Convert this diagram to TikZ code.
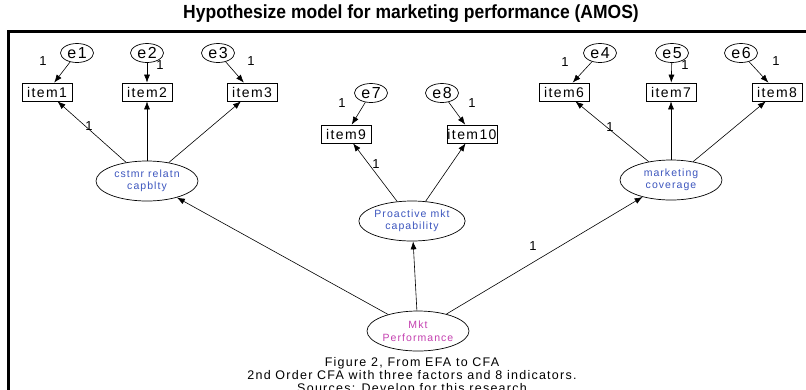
\documentclass[tikz,border=0pt]{standalone}
\usepackage{fontspec}
\setmainfont{Liberation Sans}
\newfontfamily\titlefont[FakeStretch=0.92]{Liberation Sans}
\newfontfamily\amosfont[LetterSpace=10]{Liberation Sans}
\usetikzlibrary{shapes.geometric,arrows.meta}
\definecolor{latblue}{RGB}{60,85,190}
\definecolor{topmag}{RGB}{196,64,176}
\begin{document}
\begin{tikzpicture}[x=1pt,y=-1pt,
  errnode/.style={ellipse, draw, line width=0.7pt, minimum width=33pt, minimum height=19pt, inner sep=0pt, font=\amosfont\fontsize{16}{16}\selectfont},
  obsnode/.style={rectangle, draw, line width=0.7pt, minimum width=50pt, minimum height=18pt, inner sep=0pt, font=\amosfont\fontsize{14}{14}\selectfont},
  latnode/.style={ellipse, draw, line width=0.7pt, minimum width=102pt, minimum height=40pt, inner sep=0pt, align=center, text=latblue, font=\amosfont\fontsize{10.5}{12.5}\selectfont},
  wlabel/.style={inner sep=0pt, font=\amosfont\fontsize{13}{13}\selectfont},
  captext/.style={inner sep=0pt, anchor=base, font=\amosfont\fontsize{12.5}{13}\selectfont},
  arr/.style={-{Latex[length=8pt,width=6pt]}, line width=0.6pt},
  frameline/.style={line width=3pt}
]
\useasboundingbox (0,0) rectangle (806,389);
\fill[white] (0,0) rectangle (806,389);

% heading
\node (title) at (411,14) {\titlefont\bfseries\fontsize{19}{19}\selectfont Hypothesize model for marketing performance (AMOS)};

% frame
\draw[frameline] (806,31) -- (8,31) -- (8,395);

% customer relation capability
\node[errnode] (e1) at (77,53) {e1};
\node[errnode] (e2) at (147,53) {e2};
\node[errnode] (e3) at (218,53) {e3};
\node[obsnode] (item1) at (47,92) {item1};
\node[obsnode] (item2) at (147,92) {item2};
\node[obsnode] (item3) at (252,92) {item3};
\node[latnode] (crc) at (147,181) {cstmr relatn\\capblty};

% proactive marketing capability
\node[errnode] (e7) at (371,93) {e7};
\node[errnode] (e8) at (442,93) {e8};
\node[obsnode] (item9) at (346,134) {item9};
\node[obsnode] (item10) at (472,134) {item10};
\node[latnode] (pmc) at (412,221) {Proactive mkt\\capability};

% marketing coverage
\node[errnode] (e4) at (600,53) {e4};
\node[errnode] (e5) at (672,53) {e5};
\node[errnode] (e6) at (741,53) {e6};
\node[obsnode] (item6) at (564,92) {item6};
\node[obsnode] (item7) at (671,92) {item7};
\node[obsnode] (item8) at (777,92) {item8};
\node[latnode] (mcv) at (671,180) {marketing\\coverage};

% second-order factor
\node[latnode, text=topmag] (mkt) at (418,331) {Mkt\\Performance};

% error paths
\draw[arr] (e1) -- (item1);
\draw[arr] (e2) -- (item2);
\draw[arr] (e3) -- (item3);
\draw[arr] (e7) -- (item9);
\draw[arr] (e8) -- (item10);
\draw[arr] (e4) -- (item6);
\draw[arr] (e5) -- (item7);
\draw[arr] (e6) -- (item8);

% loadings
\draw[arr] (crc) -- (item1);
\draw[arr] (crc) -- (item2);
\draw[arr] (crc) -- (item3);
\draw[arr] (pmc) -- (item9);
\draw[arr] (pmc) -- (item10);
\draw[arr] (mcv) -- (item6);
\draw[arr] (mcv) -- (item7);
\draw[arr] (mcv) -- (item8);
\draw[arr] (mkt) -- (crc);
\draw[arr] (mkt) -- (pmc);
\draw[arr] (mkt) -- (mcv);

% fixed weights
\node[wlabel] (w1) at (43,61) {1};
\node[wlabel] (w2) at (160,65) {1};
\node[wlabel] (w3) at (251,61) {1};
\node[wlabel] (w4) at (89,126) {1};
\node[wlabel] (w5) at (342,103) {1};
\node[wlabel] (w6) at (472,103) {1};
\node[wlabel] (w7) at (376,164) {1};
\node[wlabel] (w8) at (565,62) {1};
\node[wlabel] (w9) at (685,65) {1};
\node[wlabel] (w10) at (776,61) {1};
\node[wlabel] (w11) at (610,127) {1};
\node[wlabel] (w12) at (533,246) {1};

% caption
\node[captext] (cap1) at (412,366) {Figure 2, From EFA to CFA};
\node[captext] (cap2) at (412,379) {2nd Order CFA with three factors and 8 indicators.};
\node[captext] (cap3) at (412,392) {Sources: Develop for this research};
\end{tikzpicture}
\end{document}
